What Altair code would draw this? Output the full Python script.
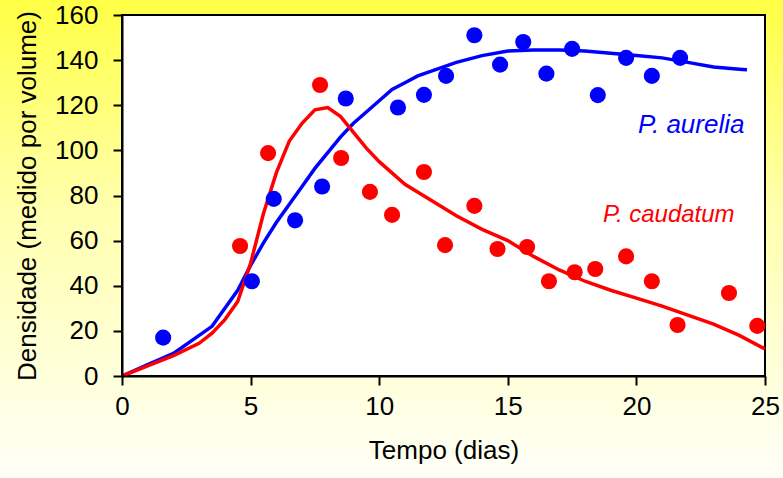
import altair as alt
import pandas as pd

# Observed points
aurelia_x = [1.6, 5.05, 5.9, 6.73, 7.78, 8.7, 10.73, 11.74, 12.6, 13.7, 14.7, 15.6, 16.5, 17.5, 18.5, 19.6, 20.6, 21.7]
aurelia_y = [17, 42, 78.5, 69, 84, 123, 119, 124.6, 133, 151, 138, 148, 134, 145, 124.5, 141, 133, 141]

caudatum_x = [4.59, 5.68, 7.7, 8.52, 9.64, 10.5, 11.74, 12.56, 13.7, 14.6, 15.75, 16.6, 17.6, 18.4, 19.6, 20.6, 21.6, 23.6, 24.7]
caudatum_y = [57.6, 98.8, 129, 96.6, 81.6, 71.4, 90.4, 58, 75.4, 56.3, 57.2, 42, 46, 47.4, 53, 42, 22.6, 36.8, 22.2]

# Fitted curves
aurelia_fit_x = [0, 1, 2, 3, 3.5, 4, 4.5, 5, 5.5, 6, 6.5, 7, 7.5, 8, 8.5, 9, 9.5, 10, 10.5, 11, 11.5, 12, 13, 14, 15, 16, 17, 18, 19, 20, 21, 22, 23, 24, 24.3]
aurelia_fit_y = [0, 5, 10, 18, 22, 30, 38, 49, 59, 68, 76, 84, 92, 99, 106, 112, 117, 122, 127, 130, 133, 135, 139, 142, 144, 144.5, 144.5, 144, 143, 142, 141, 139, 137, 136, 135.7]

caudatum_fit_x = [0, 1, 2, 3, 3.5, 4, 4.5, 5, 5.5, 6, 6.5, 7, 7.5, 8, 8.5, 9, 9.5, 10, 11, 12, 13, 14, 15, 16, 17, 18, 19, 20, 21, 22, 23, 24, 25]
caudatum_fit_y = [0, 4.5, 9, 14.5, 19, 25, 33, 50, 72, 90, 104, 112, 118, 119, 115, 108, 101, 95, 85, 78, 71, 65, 60, 53, 47, 42, 38, 34.5, 31, 27, 23, 18, 12]

x_ticks = [0, 5, 10, 15, 20, 25]
y_ticks = [0, 20, 40, 60, 80, 100, 120, 140, 160]

labels = ["P. aurelia", "P. caudatum"]
label_x = [20.06, 18.7]
label_y = [107.7, 68.3]
label_size = [26, 24]

BLUE = "#0000FF"
RED = "#FF0000"
FONT = "Liberation Sans"

W, H = 643, 361
PAD = {"left": 122, "top": 15, "right": 18, "bottom": 102}

pts = pd.concat([
    pd.DataFrame({"x": aurelia_x, "y": aurelia_y, "s": "aurelia"}),
    pd.DataFrame({"x": caudatum_x, "y": caudatum_y, "s": "caudatum"}),
])
fit = pd.concat([
    pd.DataFrame({"x": aurelia_fit_x, "y": aurelia_fit_y, "s": "aurelia"}),
    pd.DataFrame({"x": caudatum_fit_x, "y": caudatum_fit_y, "s": "caudatum"}),
])
lab = pd.DataFrame({"t": labels, "x": label_x, "y": label_y, "s": ["aurelia", "caudatum"], "size": label_size})

xs = alt.Scale(domain=[0, 25], nice=False)
ys = alt.Scale(domain=[0, 160], nice=False)
cs = alt.Scale(domain=["aurelia", "caudatum"], range=[BLUE, RED])

x_axis = alt.Axis(values=x_ticks, title="Tempo (dias)", grid=False, zindex=1, labelFlush=False,
                  labelFontSize=26, titleFontSize=26, labelFont=FONT, titleFont=FONT,
                  labelColor="black", titleColor="black", titleFontWeight="normal",
                  domainColor="black", domainWidth=2, tickColor="black", tickWidth=2, tickSize=9,
                  labelPadding=8, titlePadding=18)
y_axis = alt.Axis(values=y_ticks, title="Densidade (medido por volume)", grid=False, zindex=1, labelFlush=False,
                  labelFontSize=26, titleFontSize=26, labelFont=FONT, titleFont=FONT,
                  labelColor="black", titleColor="black", titleFontWeight="normal",
                  domainColor="black", domainWidth=2, tickColor="black", tickWidth=2, tickSize=9,
                  labelPadding=15, titlePadding=14)

bg = alt.Chart(pd.DataFrame({"a": [0]})).mark_rect(
    color=alt.Gradient(gradient="linear", x1=0, y1=0, x2=0, y2=1,
                       stops=[alt.GradientStop(color="#FFFF44", offset=0),
                              alt.GradientStop(color="#FFFFAA", offset=0.42),
                              alt.GradientStop(color="#FFFFF8", offset=1)])
).encode(x=alt.value(-PAD["left"]), x2=alt.value(W + PAD["right"]),
         y=alt.value(-PAD["top"]), y2=alt.value(H + PAD["bottom"]))

panel = alt.Chart(pd.DataFrame({"a": [0]})).mark_rect(
    fill="white", stroke="black", strokeWidth=2
).encode(x=alt.value(0), x2=alt.value(W), y=alt.value(0), y2=alt.value(H))

lines = alt.Chart(fit).mark_line(strokeWidth=3.5, clip=False).encode(
    x=alt.X("x:Q", scale=xs, axis=x_axis),
    y=alt.Y("y:Q", scale=ys, axis=y_axis),
    color=alt.Color("s:N", scale=cs, legend=None),
    detail="s:N",
)

dots = alt.Chart(pts).mark_circle(size=260, opacity=1).encode(
    x=alt.X("x:Q", scale=xs),
    y=alt.Y("y:Q", scale=ys),
    color=alt.Color("s:N", scale=cs, legend=None),
)

texts = alt.Chart(lab).mark_text(align="left", baseline="alphabetic", font=FONT, fontStyle="italic").encode(
    x=alt.X("x:Q", scale=xs),
    y=alt.Y("y:Q", scale=ys),
    text="t:N",
    size=alt.Size("size:Q", scale=None, legend=None),
    color=alt.Color("s:N", scale=cs, legend=None),
)

chart = alt.layer(bg, panel, lines, dots, texts).properties(
    width=W, height=H,
    autosize=alt.AutoSizeParams(type="none"),
    padding=PAD,
    background="#FFFFC0",
).configure_view(stroke=None)

chart.save("out.html", embed_options={"renderer": "svg", "actions": False})
